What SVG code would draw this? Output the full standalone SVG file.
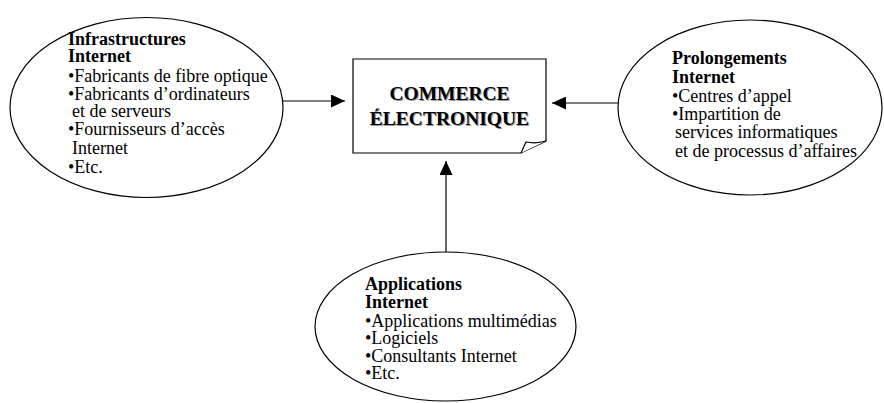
<svg xmlns="http://www.w3.org/2000/svg" width="884" height="403" viewBox="0 0 884 403">
<style>
.shape{fill:#fff;stroke:#000;stroke-width:1.2}
.t{font-family:"Liberation Serif","Times New Roman",serif;font-size:18px;fill:#000}
.b{font-weight:bold}
.title{font-family:"Liberation Serif","Times New Roman",serif;font-size:19.5px;font-weight:bold;fill:#000;text-anchor:middle}
.sh{fill:#999}
.conn{stroke:#000;stroke-width:1.2;fill:none}
</style>
<defs>
<marker id="arr" markerWidth="14" markerHeight="13" refX="14" refY="6.5" orient="auto" markerUnits="userSpaceOnUse">
<path d="M0,0 L14,6.5 L0,13 Z" fill="#000"/>
</marker>
</defs>
<rect width="884" height="403" fill="#fff"/>
<g id="connectors">
<line class="conn" x1="283" y1="101" x2="345" y2="101" marker-end="url(#arr)"/>
<line class="conn" x1="618" y1="103" x2="552" y2="103" marker-end="url(#arr)"/>
<line class="conn" x1="446" y1="252" x2="446" y2="161" marker-end="url(#arr)"/>
</g>
<g id="infrastructures">
<ellipse class="shape" cx="146.5" cy="107.5" rx="136.5" ry="90"/>
<text class="t b" x="68" y="45">Infrastructures</text>
<text class="t b" x="68" y="62">Internet</text>
<text class="t" x="68" y="81.5">•Fabricants de fibre optique</text>
<text class="t" x="68" y="99.5">•Fabricants d’ordinateurs</text>
<text class="t" x="72" y="117">et de serveurs</text>
<text class="t" x="68" y="135">•Fournisseurs d’accès</text>
<text class="t" x="72" y="153.5">Internet</text>
<text class="t" x="68" y="172.5">•Etc.</text>
</g>
<g id="commerce">
<path class="shape" d="M353,59 H546 V141 L521,153 H353 Z"/>
<path class="shape" d="M521,153 L526,142 Q536,144 546,141"/>
<text class="title sh" x="450.5" y="101">COMMERCE</text>
<text class="title sh" x="450.5" y="126">ÉLECTRONIQUE</text>
<text class="title" x="449.5" y="100">COMMERCE</text>
<text class="title" x="449.5" y="125">ÉLECTRONIQUE</text>
</g>
<g id="prolongements">
<ellipse class="shape" cx="750" cy="107.5" rx="132" ry="87.5"/>
<text class="t b" x="672" y="64">Prolongements</text>
<text class="t b" x="672" y="82.5">Internet</text>
<text class="t" x="672" y="101.5">•Centres d’appel</text>
<text class="t" x="672" y="120">•Impartition de</text>
<text class="t" x="675" y="138">services informatiques</text>
<text class="t" x="675" y="156.5">et de processus d’affaires</text>
</g>
<g id="applications">
<ellipse class="shape" cx="445.5" cy="326.5" rx="130.5" ry="74.5"/>
<text class="t b" x="365" y="290">Applications</text>
<text class="t b" x="365" y="307.5">Internet</text>
<text class="t" x="365" y="326.5">•Applications multimédias</text>
<text class="t" x="365" y="344">•Logiciels</text>
<text class="t" x="365" y="361.5">•Consultants Internet</text>
<text class="t" x="365" y="379">•Etc.</text>
</g>
</svg>
